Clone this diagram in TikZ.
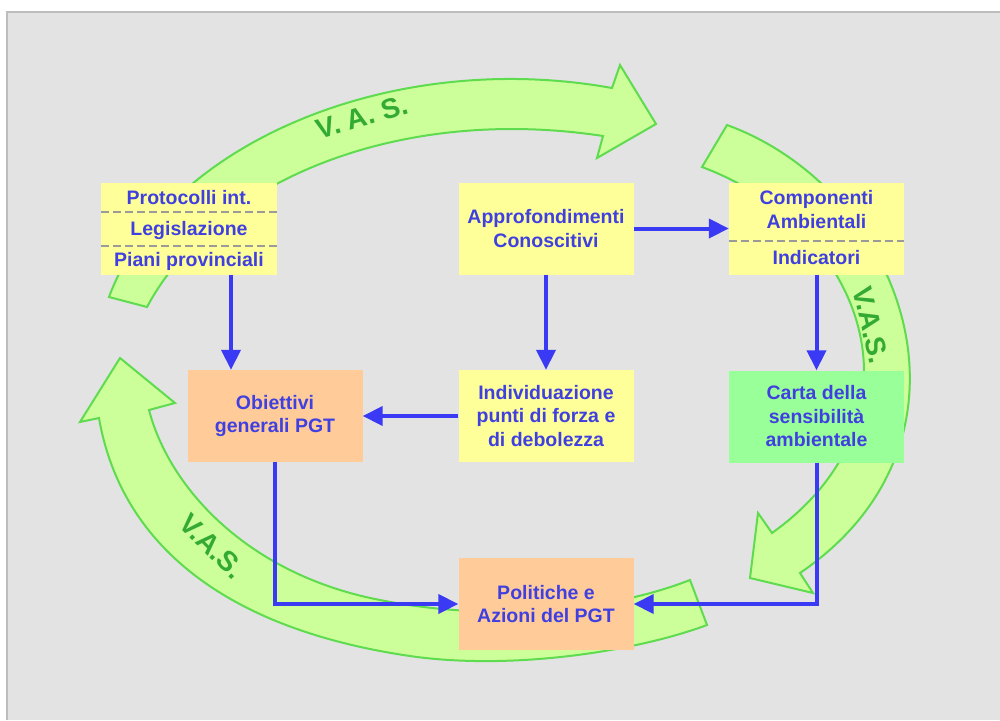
\documentclass[tikz,border=0pt]{standalone}
\usepackage{fontspec}
\setmainfont{Liberation Sans}
\usetikzlibrary{arrows.meta}

\definecolor{pagegray}{HTML}{E3E3E3}
\definecolor{framegray}{HTML}{BDBDBD}
\definecolor{boxyellow}{HTML}{FFFF99}
\definecolor{boxpeach}{HTML}{FFCC99}
\definecolor{boxmint}{HTML}{99FF99}
\definecolor{txtblue}{HTML}{4040E0}
\definecolor{flowblue}{HTML}{3A3AF5}
\definecolor{vasfill}{HTML}{CCFF99}
\definecolor{vasline}{HTML}{5EDB4E}
\definecolor{vastext}{HTML}{33AA33}
\definecolor{sepgray}{HTML}{9A9A9A}

\begin{document}
\begin{tikzpicture}[x=1pt,y=-1pt,
  stagebox/.style={rectangle, inner sep=0pt, minimum width=175pt, minimum height=92pt},
  boxtext/.style={text=txtblue, align=center,
    font=\fontsize{19.5}{23.5}\selectfont\bfseries},
  flow/.style={draw=flowblue, line width=4pt,
    -{Triangle[length=20pt,width=19pt]}},
  vasarrow/.style={draw=vasline, fill=vasfill, line width=2pt, line join=miter},
  vaslabel/.style={text=vastext, font=\fontsize{28}{30}\selectfont\bfseries, inner sep=0pt},
  separator/.style={draw=sepgray, line width=1.8pt, dash pattern=on 8pt off 4pt}]

\useasboundingbox (0,0) rectangle (1000,720);
\fill[white] (0,0) rectangle (1000,720);
\fill[pagegray] (7,12) rectangle (1000,720);
\draw[framegray, line width=1.5pt] (7,720) -- (7,12) -- (1000,12);

% curved V.A.S. cycle arrows
\path[vasarrow] (109,297) .. controls (165,145) and (390,48) .. (612,88)
  -- (620,65) -- (656,124) -- (597,158) -- (603,136)
  .. controls (400,105) and (215,180) .. (147,307) -- cycle;
\path[vasarrow] (727,125) .. controls (905,190) and (995,440) .. (800,573)
  -- (813,593) -- (750,578) -- (758,513) -- (772,533)
  .. controls (930,420) and (870,230) .. (702,167) -- cycle;
\path[vasarrow] (690,580) .. controls (600,615) and (480,620) .. (380,600)
  .. controls (250,575) and (170,490) .. (149,410)
  -- (175,403) -- (120,358) -- (80,422) -- (99,418)
  .. controls (120,540) and (220,630) .. (417,657)
  .. controls (520,670) and (640,650) .. (707,625) -- cycle;

\node[vaslabel, rotate=16] (vasTop) at (362,117) {V. A. S.};
\node[vaslabel, rotate=-77] (vasRight) at (871,325) {V.A.S.};
\node[vaslabel, rotate=-45] (vasLeft) at (212,546) {V.A.S.};

% stage boxes
\node[stagebox, minimum width=176pt, fill=boxyellow] (prot) at (189,229) {};
\node[boxtext] (protA) at (189,198) {Protocolli int.};
\node[boxtext] (protB) at (189,230) {Legislazione};
\node[boxtext] (protC) at (189,261) {Piani provinciali};
\draw[separator] ([yshift=-29pt]prot.north west) -- ([yshift=-29pt]prot.north east);
\draw[separator] ([yshift=29pt]prot.south west) -- ([yshift=29pt]prot.south east);

\node[stagebox, fill=boxyellow, boxtext] (app) at (546,228.5) {Approfondimenti\\Conoscitivi};

\node[stagebox, fill=boxyellow] (comp) at (816.5,228.5) {};
\node[boxtext] (compA) at (816.5,209.5) {Componenti\\Ambientali};
\node[boxtext] (compB) at (816.5,258) {Indicatori};
\draw[separator] ([yshift=-59pt]comp.north west) -- ([yshift=-59pt]comp.north east);

\node[stagebox, fill=boxpeach, boxtext] (obj) at (275,416) {Obiettivi\\generali PGT};
\node[stagebox, fill=boxyellow, boxtext] (ind) at (546,416) {Individuazione\\punti di forza e\\di debolezza};
\node[stagebox, fill=boxmint, boxtext] (carta) at (816.5,416.5) {Carta della\\sensibilità\\ambientale};
\node[stagebox, fill=boxpeach, boxtext] (pol) at (546,604) {Politiche e\\Azioni del PGT};

% flow connectors
\draw[flow] ([xshift=42pt]prot.south) -- ([xshift=42pt]prot.south |- obj.north);
\draw[flow] (app.south) -- (ind.north);
\draw[flow] (app.east) -- (comp.west);
\draw[flow] (comp.south) -- (carta.north);
\draw[flow] (ind.west) -- (obj.east);
\draw[flow] (obj.south) |- (pol.west);
\draw[flow] (carta.south) |- (pol.east);
\end{tikzpicture}
\end{document}
